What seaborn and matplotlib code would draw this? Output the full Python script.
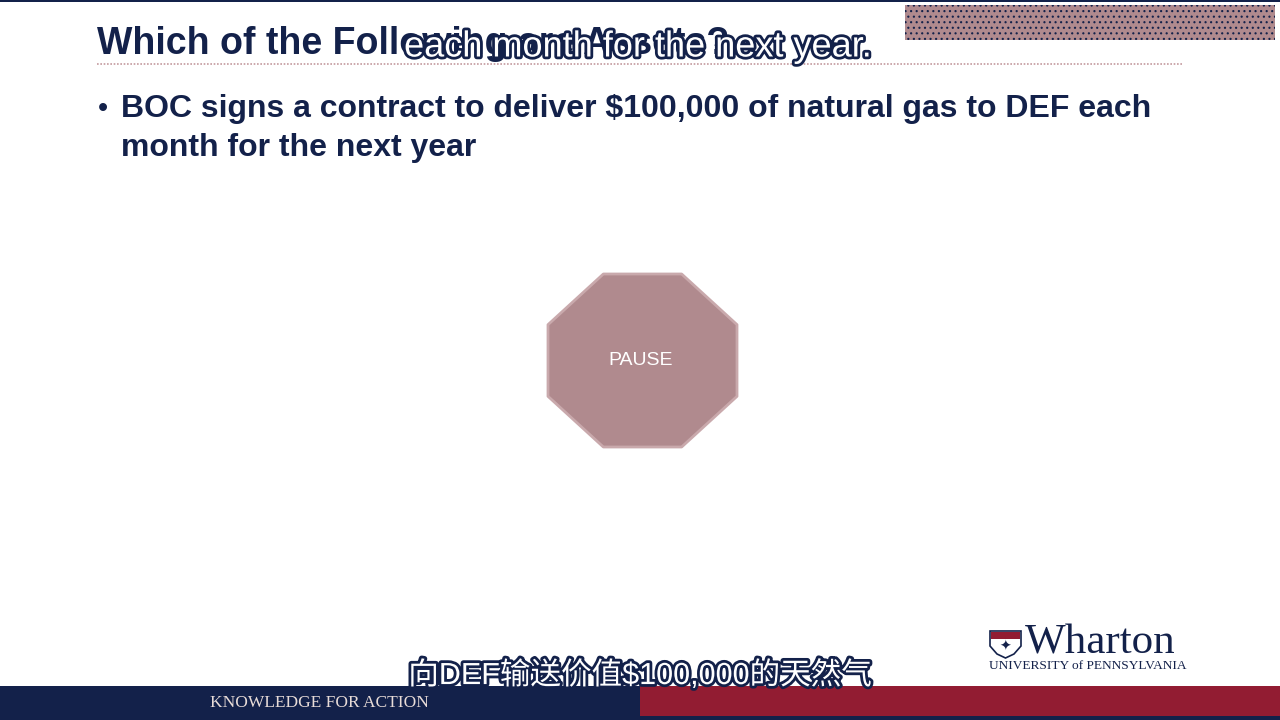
import numpy as np
import seaborn as sns
import matplotlib.pyplot as plt
import matplotlib.patches as mpatches
import matplotlib.patheffects as pe

# slide content
title = "Which of the Following are Assets?"
bullet_lines = ["BOC signs a contract to deliver $100,000 of natural gas to DEF each",
                "month for the next year"]
pause_label = "PAUSE"
subtitle_en = "each month for the next year."
subtitle_zh = "向DEF输送价值$100,000的天然气"
footer_text = "KNOWLEDGE FOR ACTION"
logo_word = "Wharton"
logo_sub = "UNIVERSITY of PENNSYLVANIA"

NAVY = "#13214a"
RED = "#921c32"
MAUVE = "#b08a8e"

sns.set_theme(style="white")
plt.rcParams['font.family'] = ['Liberation Sans', 'Noto Sans CJK SC', 'DejaVu Sans']

fig = plt.figure(figsize=(12.8, 7.2), dpi=100)
ax = fig.add_axes([0, 0, 1, 1])
ax.set_xlim(0, 1280)
ax.set_ylim(720, 0)
ax.axis('off')

# top border line
ax.add_patch(mpatches.Rectangle((0, 0), 1280, 2, color=NAVY, lw=0))

# title + rule
ax.text(97, 54, title, fontsize=27, fontweight='bold', color=NAVY, va='baseline')
ax.plot([97, 1183], [64, 64], color="#c49a9e", lw=1.2, ls=(0, (1, 1)))

# watermark box (unreadable)
plt.rcParams['hatch.linewidth'] = 0.8
ax.add_patch(mpatches.Rectangle((905, 5), 370, 35, facecolor=MAUVE, edgecolor=NAVY,
                                hatch='...', lw=0))

# bullet
ax.text(98, 117, "\u2022", fontsize=21, color=NAVY, va='baseline')
ax.text(121, 117, bullet_lines[0], fontsize=23, fontweight='bold', color=NAVY, va='baseline')
ax.text(121, 156, bullet_lines[1], fontsize=23, fontweight='bold', color=NAVY, va='baseline')

# pause octagon
cx, cy, rx, ry = 642.5, 360.5, 94.5, 86.5
ang = np.deg2rad(np.arange(22.5, 360, 45))
oct_pts = np.column_stack([cx + rx / np.cos(np.pi / 8) * np.cos(ang),
                           cy + ry / np.cos(np.pi / 8) * np.sin(ang)])
ax.add_patch(mpatches.Polygon(oct_pts, closed=True, facecolor=MAUVE, edgecolor="#c9a9ac",
                              lw=2, joinstyle='round'))
ax.text(cx - 2, cy, pause_label, fontsize=14, color="white", ha='center', va='center')

# wharton logo
shield = mpatches.Polygon([(990, 631), (1021, 631), (1021, 646), (1014, 654), (1005.5, 658),
                           (997, 654), (990, 646)], closed=True,
                          facecolor="white", edgecolor=NAVY, lw=1.2)
ax.add_patch(shield)
ax.add_patch(mpatches.Rectangle((990.6, 631.6), 29.8, 7, facecolor=RED, lw=0))
ax.text(1005.5, 647, "\u2726", fontsize=10, color=NAVY, ha='center', va='center')
ax.text(1025, 654, logo_word, fontsize=31, color=NAVY, va='baseline', family='Liberation Serif')
ax.text(989, 669, logo_sub, fontsize=9.6, color=NAVY, va='baseline', family='Liberation Serif')

# footer bars
ax.add_patch(mpatches.Rectangle((0, 686), 640, 34, color=NAVY, lw=0))
ax.add_patch(mpatches.Rectangle((640, 686), 640, 30, color=RED, lw=0))
ax.add_patch(mpatches.Rectangle((640, 716), 640, 4, color=NAVY, lw=0))
ax.text(319, 703, footer_text, fontsize=12.5, color="#e8dcd8", ha='center', va='center',
        family='Liberation Serif')

# subtitles with outline
outline = [pe.withStroke(linewidth=4, foreground=NAVY)]
ax.text(638, 47, subtitle_en, fontsize=26, color="white", ha='center', va='center',
        path_effects=outline)
ax.text(640, 676, subtitle_zh, fontsize=22, color="white", ha='center', va='center',
        path_effects=outline, family=['Liberation Sans', 'Noto Sans CJK SC'])

fig.savefig("out.png", dpi=100)
